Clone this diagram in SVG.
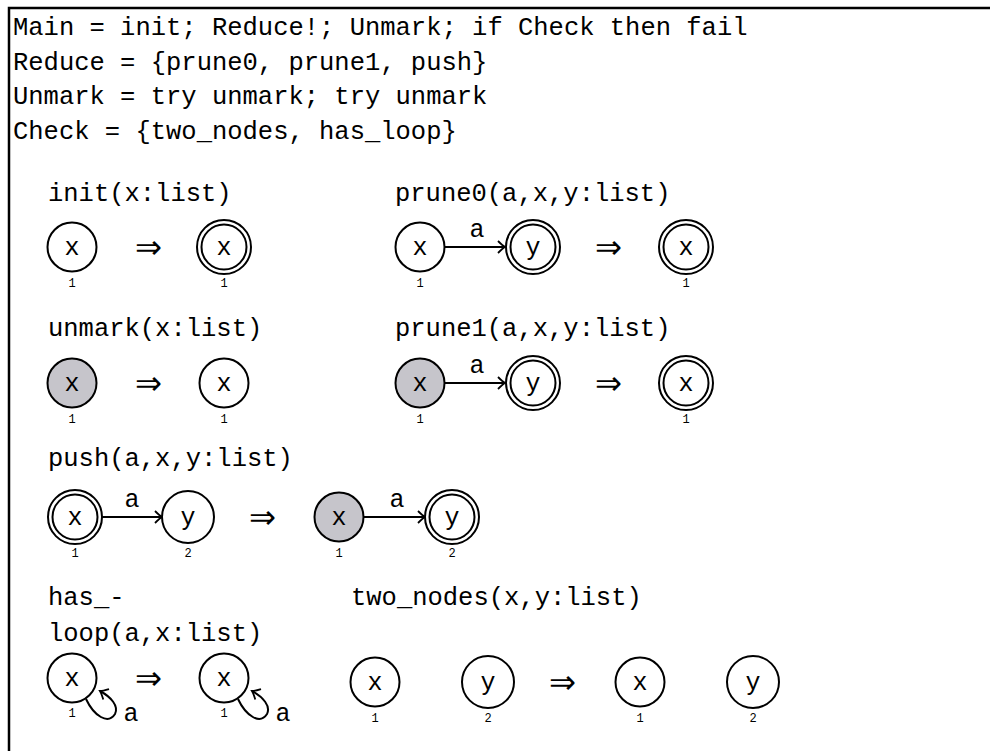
<svg xmlns="http://www.w3.org/2000/svg" width="990" height="751" viewBox="0 0 990 751">
<style>
.t{font-family:"Liberation Mono","DejaVu Sans Mono",monospace;font-size:25.5px;fill:#000}
.n{font-family:"Liberation Mono","DejaVu Sans Mono",monospace;font-size:25px;fill:#000;text-anchor:middle}
.l{font-family:"Liberation Mono","DejaVu Sans Mono",monospace;font-size:12px;fill:#000;text-anchor:middle}
.ar{font-family:"DejaVu Sans ExtraLight","DejaVu Sans",sans-serif;font-size:32px;fill:#000}
.c{fill:#fff;stroke:#000;stroke-width:2}
.g{fill:#c6c5cb;stroke:#000;stroke-width:2}
.e{fill:none;stroke:#000;stroke-width:2}
</style>
<defs>
<marker id="ah" viewBox="-10 -8 12 16" markerWidth="12" markerHeight="16" refX="0" refY="0" orient="auto" markerUnits="userSpaceOnUse">
<path d="M -7 -6 Q -2 -1 0 0 Q -2 1 -7 6" fill="none" stroke="#000" stroke-width="1.8"/>
</marker>
</defs>
<rect width="990" height="751" fill="#fff"/>
<path d="M 9 751 L 9 8 L 990 8" fill="none" stroke="#000" stroke-width="2.5"/>
<g id="program">
<text class="t" x="13" y="35">Main = init; Reduce!; Unmark; if Check then fail</text>
<text class="t" x="13" y="70">Reduce = {prune0, prune1, push}</text>
<text class="t" x="13" y="104">Unmark = try unmark; try unmark</text>
<text class="t" x="13" y="139">Check = {two_nodes, has_loop}</text>
</g>
<g id="titles">
<text class="t" x="48" y="201">init(x:list)</text>
<text class="t" x="395" y="201">prune0(a,x,y:list)</text>
<text class="t" x="48" y="336">unmark(x:list)</text>
<text class="t" x="395" y="336">prune1(a,x,y:list)</text>
<text class="t" x="48" y="466">push(a,x,y:list)</text>
<text class="t" x="48" y="605">has_-</text>
<text class="t" x="48" y="641">loop(a,x:list)</text>
<text class="t" x="351" y="605">two_nodes(x,y:list)</text>
</g>
<g id="connectors">
<line class="e" x1="445" y1="247" x2="505" y2="247" marker-end="url(#ah)"/>
<line class="e" x1="445" y1="383" x2="505" y2="383" marker-end="url(#ah)"/>
<line class="e" x1="102" y1="517" x2="162" y2="517" marker-end="url(#ah)"/>
<line class="e" x1="364" y1="517" x2="425" y2="517" marker-end="url(#ah)"/>
<path class="e" d="M 86 699 C 94 716, 108 725, 115 714 C 119 706, 111 697, 100 691" marker-end="url(#ah)"/>
<path class="e" d="M 238 699 C 246 716, 260 725, 267 714 C 271 706, 263 697, 252 691" marker-end="url(#ah)"/>
<text class="n" x="477" y="237">a</text>
<text class="n" x="477" y="373">a</text>
<text class="n" x="132" y="507">a</text>
<text class="n" x="397" y="507">a</text>
<text class="n" x="131" y="721">a</text>
<text class="n" x="283" y="721">a</text>
</g>
<g id="arrows">
<text class="ar" x="135" y="258" textLength="27" lengthAdjust="spacingAndGlyphs">⇒</text>
<text class="ar" x="595" y="258" textLength="27" lengthAdjust="spacingAndGlyphs">⇒</text>
<text class="ar" x="135" y="394" textLength="27" lengthAdjust="spacingAndGlyphs">⇒</text>
<text class="ar" x="595" y="394" textLength="27" lengthAdjust="spacingAndGlyphs">⇒</text>
<text class="ar" x="249" y="528" textLength="27" lengthAdjust="spacingAndGlyphs">⇒</text>
<text class="ar" x="135" y="689" textLength="27" lengthAdjust="spacingAndGlyphs">⇒</text>
<text class="ar" x="549" y="693" textLength="27" lengthAdjust="spacingAndGlyphs">⇒</text>
</g>
<g id="init-l"><circle class="c" cx="72" cy="247" r="24.5"/><text class="n" x="72" y="255">x</text><text class="l" x="72" y="287">1</text></g>
<g id="init-r"><circle class="c" cx="224" cy="247" r="27"/><circle class="c" cx="224" cy="247" r="22.5"/><text class="n" x="224" y="255">x</text><text class="l" x="224" y="287">1</text></g>
<g id="prune0-x"><circle class="c" cx="420" cy="247" r="24.5"/><text class="n" x="420" y="255">x</text><text class="l" x="420" y="287">1</text></g>
<g id="prune0-y"><circle class="c" cx="533" cy="247" r="27"/><circle class="c" cx="533" cy="247" r="22.5"/><text class="n" x="533" y="255">y</text></g>
<g id="prune0-r"><circle class="c" cx="686" cy="247" r="27"/><circle class="c" cx="686" cy="247" r="22.5"/><text class="n" x="686" y="255">x</text><text class="l" x="686" y="287">1</text></g>
<g id="unmark-l"><circle class="g" cx="72" cy="383" r="24.5"/><text class="n" x="72" y="391">x</text><text class="l" x="72" y="423">1</text></g>
<g id="unmark-r"><circle class="c" cx="224" cy="383" r="24.5"/><text class="n" x="224" y="391">x</text><text class="l" x="224" y="423">1</text></g>
<g id="prune1-x"><circle class="g" cx="420" cy="383" r="24.5"/><text class="n" x="420" y="391">x</text><text class="l" x="420" y="423">1</text></g>
<g id="prune1-y"><circle class="c" cx="533" cy="383" r="27"/><circle class="c" cx="533" cy="383" r="22.5"/><text class="n" x="533" y="391">y</text></g>
<g id="prune1-r"><circle class="c" cx="686" cy="383" r="27"/><circle class="c" cx="686" cy="383" r="22.5"/><text class="n" x="686" y="391">x</text><text class="l" x="686" y="423">1</text></g>
<g id="push-lx"><circle class="c" cx="75" cy="517" r="27"/><circle class="c" cx="75" cy="517" r="22.5"/><text class="n" x="75" y="525">x</text><text class="l" x="75" y="557">1</text></g>
<g id="push-ly"><circle class="c" cx="188" cy="517" r="26"/><text class="n" x="188" y="525">y</text><text class="l" x="188" y="557">2</text></g>
<g id="push-rx"><circle class="g" cx="339" cy="517" r="24.5"/><text class="n" x="339" y="525">x</text><text class="l" x="339" y="557">1</text></g>
<g id="push-ry"><circle class="c" cx="452" cy="517" r="27"/><circle class="c" cx="452" cy="517" r="22.5"/><text class="n" x="452" y="525">y</text><text class="l" x="452" y="557">2</text></g>
<g id="loop-l"><circle class="c" cx="72" cy="678" r="24.5"/><text class="n" x="72" y="686">x</text><text class="l" x="72" y="717">1</text></g>
<g id="loop-r"><circle class="c" cx="224" cy="678" r="24.5"/><text class="n" x="224" y="686">x</text><text class="l" x="224" y="717">1</text></g>
<g id="two-lx"><circle class="c" cx="375" cy="682" r="24.5"/><text class="n" x="375" y="690">x</text><text class="l" x="375" y="722">1</text></g>
<g id="two-ly"><circle class="c" cx="488" cy="682" r="26"/><text class="n" x="488" y="690">y</text><text class="l" x="488" y="722">2</text></g>
<g id="two-rx"><circle class="c" cx="640" cy="682" r="24.5"/><text class="n" x="640" y="690">x</text><text class="l" x="640" y="722">1</text></g>
<g id="two-ry"><circle class="c" cx="753" cy="682" r="26"/><text class="n" x="753" y="690">y</text><text class="l" x="753" y="722">2</text></g>
</svg>
